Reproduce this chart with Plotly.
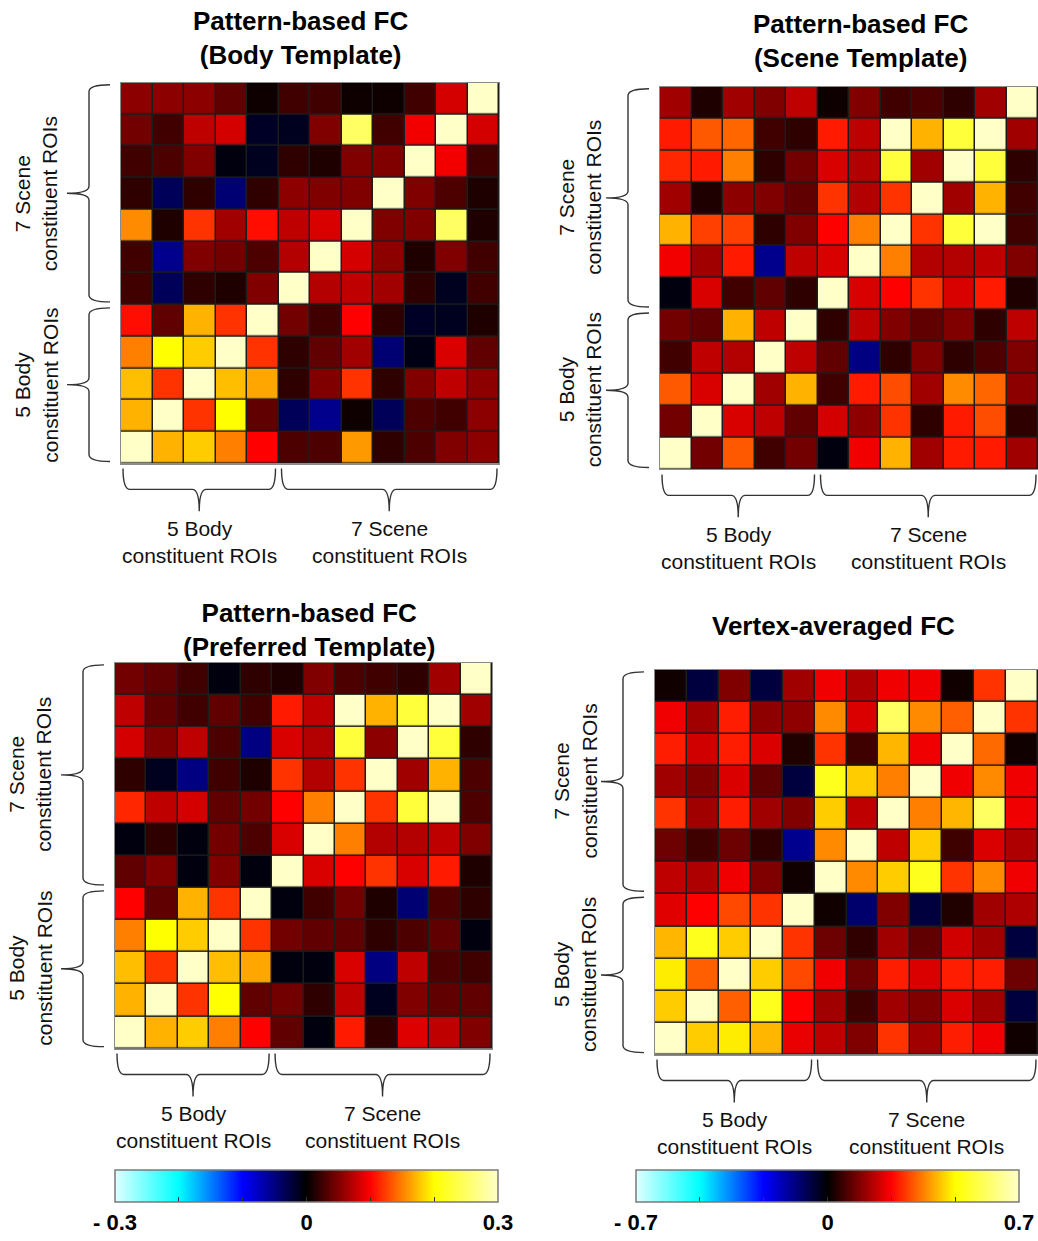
import plotly.graph_objects as go

W, H = 1038, 1241
FONT = "Arial, Liberation Sans, sans-serif"

# ROI order (x: left->right; y: top->bottom)
X_ROIS = ["Body1", "Body2", "Body3", "Body4", "Body5",
          "Scene1", "Scene2", "Scene3", "Scene4", "Scene5", "Scene6", "Scene7"]
Y_ROIS = X_ROIS[::-1]

# Pattern-based FC (Body Template), rows top -> bottom
Z_BODY = [
    [0.055, 0.055, 0.055, 0.038, 0.006, 0.025, 0.025, 0.006, 0.006, 0.025, 0.083, 0.30],
    [0.045, 0.025, 0.075, 0.083, -0.015, -0.012, 0.05, 0.25, 0.025, 0.095, 0.30, 0.083],
    [0.025, 0.03, 0.05, -0.006, -0.012, 0.018, 0.012, 0.05, 0.05, 0.30, 0.095, 0.025],
    [0.018, -0.035, 0.018, -0.045, 0.018, 0.055, 0.05, 0.05, 0.30, 0.05, 0.03, 0.012],
    [0.155, 0.012, 0.12, 0.063, 0.105, 0.075, 0.085, 0.30, 0.05, 0.05, 0.25, 0.012],
    [0.025, -0.055, 0.05, 0.045, 0.03, 0.07, 0.30, 0.083, 0.055, 0.012, 0.05, 0.025],
    [0.025, -0.035, 0.018, 0.012, 0.05, 0.30, 0.07, 0.075, 0.063, 0.018, -0.012, 0.025],
    [0.105, 0.038, 0.17, 0.12, 0.30, 0.045, 0.025, 0.10, 0.018, -0.015, -0.012, 0.012],
    [0.15, 0.20, 0.18, 0.30, 0.12, 0.018, 0.038, 0.063, -0.045, -0.008, 0.085, 0.038],
    [0.175, 0.12, 0.30, 0.175, 0.165, 0.018, 0.05, 0.12, 0.018, 0.05, 0.075, 0.055],
    [0.17, 0.30, 0.12, 0.20, 0.038, -0.035, -0.055, 0.006, -0.035, 0.03, 0.025, 0.055],
    [0.30, 0.17, 0.18, 0.15, 0.10, 0.03, 0.03, 0.16, 0.018, 0.03, 0.05, 0.055],
]

# Pattern-based FC (Scene Template)
Z_SCENE = [
    [0.063, 0.012, 0.063, 0.05, 0.075, 0.006, 0.05, 0.025, 0.03, 0.018, 0.063, 0.30],
    [0.11, 0.135, 0.14, 0.025, 0.018, 0.11, 0.075, 0.30, 0.17, 0.23, 0.30, 0.063],
    [0.115, 0.11, 0.15, 0.018, 0.045, 0.085, 0.07, 0.23, 0.063, 0.30, 0.23, 0.018],
    [0.063, 0.012, 0.055, 0.05, 0.038, 0.12, 0.07, 0.12, 0.30, 0.063, 0.17, 0.025],
    [0.17, 0.125, 0.125, 0.018, 0.05, 0.10, 0.15, 0.30, 0.12, 0.23, 0.30, 0.025],
    [0.095, 0.063, 0.11, -0.055, 0.075, 0.085, 0.30, 0.15, 0.07, 0.07, 0.075, 0.05],
    [-0.006, 0.085, 0.025, 0.038, 0.018, 0.30, 0.085, 0.10, 0.12, 0.085, 0.11, 0.012],
    [0.045, 0.038, 0.17, 0.075, 0.30, 0.018, 0.075, 0.05, 0.038, 0.05, 0.018, 0.075],
    [0.025, 0.075, 0.07, 0.30, 0.075, 0.038, -0.05, 0.018, 0.05, 0.018, 0.03, 0.05],
    [0.135, 0.085, 0.30, 0.063, 0.17, 0.025, 0.11, 0.13, 0.063, 0.155, 0.14, 0.055],
    [0.045, 0.30, 0.085, 0.075, 0.038, 0.083, 0.055, 0.12, 0.018, 0.11, 0.13, 0.018],
    [0.30, 0.045, 0.135, 0.025, 0.045, -0.006, 0.095, 0.17, 0.063, 0.11, 0.11, 0.063],
]

# Pattern-based FC (Preferred Template)
Z_PREF = [
    [0.045, 0.038, 0.025, -0.006, 0.018, 0.012, 0.05, 0.03, 0.025, 0.018, 0.063, 0.30],
    [0.075, 0.038, 0.025, 0.038, 0.025, 0.11, 0.075, 0.30, 0.17, 0.23, 0.30, 0.063],
    [0.083, 0.05, 0.075, 0.03, -0.05, 0.085, 0.07, 0.23, 0.055, 0.30, 0.23, 0.018],
    [0.018, -0.012, -0.05, 0.025, 0.012, 0.12, 0.07, 0.12, 0.30, 0.063, 0.17, 0.03],
    [0.115, 0.075, 0.083, 0.038, 0.045, 0.10, 0.15, 0.30, 0.12, 0.23, 0.30, 0.03],
    [-0.006, 0.018, -0.006, 0.045, 0.03, 0.085, 0.30, 0.15, 0.07, 0.07, 0.075, 0.05],
    [0.038, 0.05, -0.006, 0.05, -0.006, 0.30, 0.085, 0.10, 0.12, 0.085, 0.11, 0.012],
    [0.10, 0.038, 0.17, 0.12, 0.30, -0.006, 0.025, 0.045, 0.012, -0.045, 0.03, 0.018],
    [0.15, 0.20, 0.18, 0.30, 0.12, 0.045, 0.038, 0.038, 0.018, 0.03, 0.038, -0.006],
    [0.175, 0.12, 0.30, 0.175, 0.165, -0.006, -0.006, 0.085, -0.05, 0.075, 0.03, 0.025],
    [0.17, 0.30, 0.12, 0.20, 0.038, 0.045, 0.018, 0.075, -0.012, 0.05, 0.038, 0.038],
    [0.30, 0.17, 0.18, 0.15, 0.10, 0.038, -0.006, 0.11, 0.018, 0.087, 0.075, 0.05],
]

# Vertex-averaged FC
Z_VERTEX = [
    [0.015, -0.058, 0.117, -0.058, 0.146, 0.22, 0.16, 0.22, 0.22, 0.015, 0.28, 0.70],
    [0.22, 0.146, 0.26, 0.13, 0.13, 0.36, 0.20, 0.58, 0.36, 0.32, 0.70, 0.28],
    [0.26, 0.19, 0.26, 0.20, 0.03, 0.28, 0.058, 0.40, 0.22, 0.70, 0.33, 0.015],
    [0.146, 0.117, 0.20, 0.088, -0.058, 0.50, 0.42, 0.35, 0.70, 0.22, 0.36, 0.22],
    [0.28, 0.146, 0.26, 0.146, 0.117, 0.42, 0.175, 0.70, 0.35, 0.40, 0.58, 0.22],
    [0.10, 0.058, 0.10, 0.044, -0.13, 0.36, 0.70, 0.175, 0.42, 0.058, 0.20, 0.16],
    [0.175, 0.16, 0.22, 0.117, 0.015, 0.70, 0.36, 0.42, 0.50, 0.28, 0.36, 0.22],
    [0.205, 0.233, 0.30, 0.28, 0.70, 0.015, -0.10, 0.117, -0.058, 0.03, 0.146, 0.16],
    [0.40, 0.50, 0.42, 0.70, 0.28, 0.10, 0.044, 0.146, 0.088, 0.19, 0.146, -0.058],
    [0.45, 0.32, 0.70, 0.42, 0.30, 0.22, 0.10, 0.26, 0.20, 0.26, 0.26, 0.10],
    [0.42, 0.70, 0.32, 0.50, 0.233, 0.146, 0.058, 0.146, 0.117, 0.20, 0.146, -0.058],
    [0.70, 0.42, 0.45, 0.40, 0.215, 0.175, 0.117, 0.28, 0.146, 0.26, 0.22, 0.015],
]

TITLES = ["Pattern-based FC<br>(Body Template)",
          "Pattern-based FC<br>(Scene Template)",
          "Pattern-based FC<br>(Preferred Template)",
          "Vertex-averaged FC"]
GROUP_LABELS = ["5 Body<br>constituent ROIs", "7 Scene<br>constituent ROIs"]
CBAR_RANGE_A = 0.3
CBAR_RANGE_B = 0.7
CBAR_TICKTEXT_A = ["- 0.3", "", "", "0", "", "", "0.3"]
CBAR_TICKTEXT_B = ["- 0.7", "", "", "0", "", "", "0.7"]

COLORSCALE = [
    [0.0, "#e0ffff"],
    [1 / 6, "#00ffff"],
    [1 / 3, "#0000ff"],
    [0.5, "#000000"],
    [2 / 3, "#ff0000"],
    [5 / 6, "#ffff00"],
    [1.0, "#ffffc8"],
]

# layout (pixels): heatmap box (left, right, top, bottom), title centre, left-label offset
PANELS = [
    dict(z=Z_BODY, box=(121, 499, 83, 465), title_xy=(300, 38), lab_off=-85, ca="coloraxis"),
    dict(z=Z_SCENE, box=(660, 1038, 87, 471), title_xy=(860, 41), lab_off=-80, ca="coloraxis"),
    dict(z=Z_PREF, box=(115, 492, 665, 1052), title_xy=(309, 632), lab_off=-85, ca="coloraxis"),
    dict(z=Z_VERTEX, box=(655, 1038, 672, 1058), title_xy=(833, 628), lab_off=-80, ca="coloraxis2"),
]


def X(px):
    return px / W


def Y(py):
    return 1 - py / H


def f(v):
    return f"{v:.5f}"


def vbrace(xe, xs, xt, y0, y1, r=7):
    ym = (y0 + y1) / 2
    return (f"M {f(X(xe))},{f(Y(y0))} Q {f(X(xs))},{f(Y(y0))} {f(X(xs))},{f(Y(y0 + r))} "
            f"L {f(X(xs))},{f(Y(ym - r))} Q {f(X(xs))},{f(Y(ym))} {f(X(xt))},{f(Y(ym))} "
            f"Q {f(X(xs))},{f(Y(ym))} {f(X(xs))},{f(Y(ym + r))} "
            f"L {f(X(xs))},{f(Y(y1 - r))} Q {f(X(xs))},{f(Y(y1))} {f(X(xe))},{f(Y(y1))}")


def hbrace(ye, ys, yt, x0, x1, r=7):
    xm = (x0 + x1) / 2
    return (f"M {f(X(x0))},{f(Y(ye))} Q {f(X(x0))},{f(Y(ys))} {f(X(x0 + r))},{f(Y(ys))} "
            f"L {f(X(xm - r))},{f(Y(ys))} Q {f(X(xm))},{f(Y(ys))} {f(X(xm))},{f(Y(yt))} "
            f"Q {f(X(xm))},{f(Y(ys))} {f(X(xm + r))},{f(Y(ys))} "
            f"L {f(X(x1 - r))},{f(Y(ys))} Q {f(X(x1))},{f(Y(ys))} {f(X(x1))},{f(Y(ye))}")


fig = go.Figure()
shapes = []
annotations = []
n_body = 5
n = len(X_ROIS)

for i, p in enumerate(PANELS):
    k = "" if i == 0 else str(i + 1)
    l, r, t, b = p["box"]
    fig.add_trace(go.Heatmap(
        z=p["z"], x=X_ROIS, y=Y_ROIS, coloraxis=p["ca"],
        xgap=1.5, ygap=1.5, xaxis="x" + k, yaxis="y" + k,
        hoverinfo="skip",
    ))
    ax = dict(domain=[X(l), X(r)], showticklabels=False, ticks="", showgrid=False,
              zeroline=False, showline=True, mirror=True, linecolor="#8a8a8a", linewidth=1)
    fig.layout["xaxis" + k] = dict(ax, anchor="y" + k, range=[-0.5, n - 0.5])
    fig.layout["yaxis" + k] = dict(ax, domain=[Y(b), Y(t)], anchor="x" + k, range=[n - 0.5, -0.5])

    cw = (r - l) / n
    ch = (b - t) / n
    # left braces: scene block (top 7 rows), body block (bottom 5 rows)
    ysplit = t + (n - n_body) * ch
    for y0, y1, lab in [(t + 2, ysplit - 3, GROUP_LABELS[1]), (ysplit + 3, b - 2, GROUP_LABELS[0])]:
        shapes.append(dict(type="path", xref="paper", yref="paper",
                           path=vbrace(l - 11, l - 32, l - 54, y0, y1),
                           line=dict(color="#333333", width=1.4)))
        annotations.append(dict(x=X(l + p["lab_off"]), y=Y((y0 + y1) / 2), xref="paper", yref="paper",
                                text=lab, textangle=-90, showarrow=False, xanchor="center",
                                yanchor="middle", font=dict(family=FONT, size=21, color="#111111")))
    # bottom braces: body block (left 5 cols), scene block (right 7 cols)
    xsplit = l + n_body * cw
    for x0, x1, lab in [(l + 2, xsplit - 3, GROUP_LABELS[0]), (xsplit + 3, r - 2, GROUP_LABELS[1])]:
        shapes.append(dict(type="path", xref="paper", yref="paper",
                           path=hbrace(b + 5, b + 26, b + 48, x0, x1),
                           line=dict(color="#333333", width=1.4)))
        annotations.append(dict(x=X((x0 + x1) / 2), y=Y(b + 79), xref="paper", yref="paper",
                                text=lab, showarrow=False, xanchor="center", yanchor="middle",
                                font=dict(family=FONT, size=21, color="#111111")))
    tx, ty = p["title_xy"]
    annotations.append(dict(x=X(tx), y=Y(ty), xref="paper", yref="paper",
                            text="<b>" + TITLES[i].replace("<br>", "</b><br><b>") + "</b>",
                            showarrow=False, xanchor="center", yanchor="middle",
                            font=dict(family=FONT, size=26, color="#000000")))


def cbar(rng, ticktext, xc):
    step = rng / 3
    return dict(
        orientation="h", thickness=32, thicknessmode="pixels", len=383, lenmode="pixels",
        x=X(xc), xanchor="center", y=Y(1174), yanchor="top", xpad=0, ypad=0,
        tickvals=[round(-rng + j * step, 4) for j in range(7)], ticktext=ticktext,
        ticks="inside", ticklen=5, tickwidth=1.2, tickcolor="#333333",
        outlinecolor="#7a7a7a", outlinewidth=1.5,
        tickfont=dict(family=FONT, size=22, color="#000000", weight="bold"),
    )


fig.update_layout(
    width=W, height=H,
    margin=dict(l=0, r=0, t=0, b=0),
    paper_bgcolor="white", plot_bgcolor="#1c1c1c",
    showlegend=False,
    coloraxis=dict(colorscale=COLORSCALE, cmin=-CBAR_RANGE_A, cmax=CBAR_RANGE_A,
                   colorbar=cbar(CBAR_RANGE_A, CBAR_TICKTEXT_A, 306.5)),
    coloraxis2=dict(colorscale=COLORSCALE, cmin=-CBAR_RANGE_B, cmax=CBAR_RANGE_B,
                    colorbar=cbar(CBAR_RANGE_B, CBAR_TICKTEXT_B, 827.5)),
    shapes=shapes,
    annotations=annotations,
)

fig.write_html("out.html", config={"displayModeBar": False},
               post_script="document.body.style.margin='0';document.body.style.overflow='hidden';")
